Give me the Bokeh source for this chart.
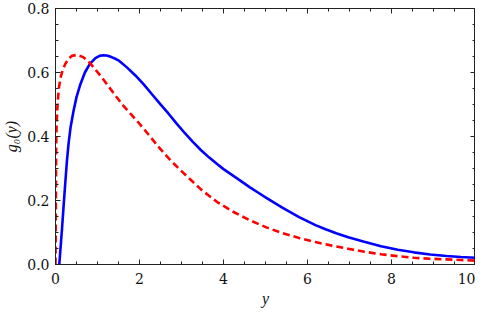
from bokeh.plotting import figure
from bokeh.models import Range1d, FixedTicker, LinearAxis, PrintfTickFormatter, CustomJSTickFormatter
from bokeh.embed import file_html
from bokeh.resources import INLINE

# Data
blue_x = [0.09, 0.12, 0.156, 0.19, 0.234, 0.27, 0.311, 0.36, 0.428, 0.50, 0.584, 0.70, 0.818, 0.95,
          1.05, 1.13, 1.22, 1.32, 1.44, 1.519, 1.70, 1.908, 2.10, 2.297, 2.49, 2.687, 2.88, 3.076,
          3.27, 3.466, 3.66, 3.855, 4.0, 4.166, 4.40, 4.63, 4.82, 5.02, 5.40, 5.80, 6.19, 6.43,
          6.70, 6.97, 7.35, 7.75, 8.15, 8.53, 8.92, 9.31, 9.65, 10.0]
blue_y = [0.0, 0.052, 0.113, 0.178, 0.257, 0.32, 0.378, 0.43, 0.479, 0.523, 0.56, 0.60, 0.627, 0.645,
          0.652, 0.654, 0.653, 0.649, 0.642, 0.636, 0.616, 0.590, 0.563, 0.532, 0.502, 0.472, 0.441, 0.411,
          0.383, 0.357, 0.334, 0.313, 0.298, 0.283, 0.262, 0.241, 0.225, 0.208, 0.178, 0.148, 0.123, 0.110,
          0.097, 0.085, 0.071, 0.057, 0.046, 0.038, 0.0315, 0.0265, 0.0235, 0.021]

red_x = [0.0, 0.004, 0.008, 0.012, 0.016, 0.025, 0.04, 0.054, 0.08, 0.117, 0.17, 0.234, 0.31, 0.39,
         0.51, 0.66, 0.78, 0.90, 1.10, 1.29, 1.45, 1.597, 1.78, 1.947, 2.10, 2.26, 2.43, 2.61, 2.78,
         2.96, 3.20, 3.47, 3.85, 4.24, 4.63, 5.02, 5.40, 5.80, 6.19, 6.58, 6.97, 7.35, 7.75, 8.15,
         8.53, 8.92, 9.31, 9.65, 10.0]
red_y = [0.0, 0.08, 0.18, 0.29, 0.37, 0.43, 0.48, 0.51, 0.55, 0.582, 0.607, 0.627, 0.643, 0.652,
         0.655, 0.648, 0.635, 0.617, 0.585, 0.552, 0.524, 0.499, 0.472, 0.448, 0.424, 0.399, 0.371, 0.344, 0.320,
         0.297, 0.267, 0.234, 0.195, 0.164, 0.138, 0.116, 0.098, 0.083, 0.070, 0.059, 0.049, 0.040, 0.032, 0.026,
         0.021, 0.018, 0.016, 0.014, 0.012]

x_major = [0, 2, 4, 6, 8, 10]
x_minor = [i * 0.5 for i in range(21)]
y_major = [0.0, 0.2, 0.4, 0.6, 0.8]
y_minor = [i * 0.05 for i in range(17)]

TICK_FONT = "DejaVu Serif"
LABEL_FONT = "Liberation Serif"

p = figure(width=475, height=309, output_backend="svg", toolbar_location=None,
           x_range=Range1d(0, 10), y_range=Range1d(0, 0.8),
           min_border_left=47, min_border_right=0, min_border_top=8, min_border_bottom=40)
p.grid.visible = False
p.outline_line_color = "#222222"
p.background_fill_color = "white"
p.border_fill_color = "white"

p.line(blue_x, blue_y, line_color="#0000ff", line_width=2.6)
p.line(red_x, red_y, line_color="#ff0000", line_width=2.6, line_dash="7 4")

xt = FixedTicker(ticks=x_major, minor_ticks=x_minor)
yt = FixedTicker(ticks=y_major, minor_ticks=y_minor)

def style(ax):
    ax.axis_line_color = "#222222"
    ax.major_tick_in = 5
    ax.major_tick_out = 0
    ax.minor_tick_in = 3
    ax.minor_tick_out = 0
    ax.major_tick_line_color = "#222222"
    ax.minor_tick_line_color = "#222222"
    ax.major_label_text_font = TICK_FONT
    ax.major_label_text_font_size = "14px"
    ax.major_label_text_color = "#111111"
    ax.axis_label_text_font = LABEL_FONT
    ax.axis_label_text_font_size = "16px"
    ax.axis_label_text_font_style = "italic"
    ax.axis_label_text_color = "#111111"

xa = p.xaxis[0]
xa.ticker = xt
style(xa)
xa.major_label_standoff = 8
xa.axis_label = "y"
xa.axis_label_standoff = 3

ya = p.yaxis[0]
ya.ticker = yt
style(ya)
ya.formatter = PrintfTickFormatter(format="%.1f")
ya.major_label_standoff = 6
ya.axis_label = "g₀(y)"
ya.axis_label_standoff = 4

ra = LinearAxis(ticker=yt, formatter=CustomJSTickFormatter(code="return ''"))
style(ra)
ra.major_label_text_font_size = "0px"
ra.major_label_standoff = 0
ta = LinearAxis(ticker=xt, formatter=CustomJSTickFormatter(code="return ''"))
style(ta)
ta.major_label_text_font_size = "0px"
ta.major_label_standoff = 0
p.add_layout(ra, "right")
p.add_layout(ta, "above")

open("out.html", "w").write(file_html(p, INLINE))
